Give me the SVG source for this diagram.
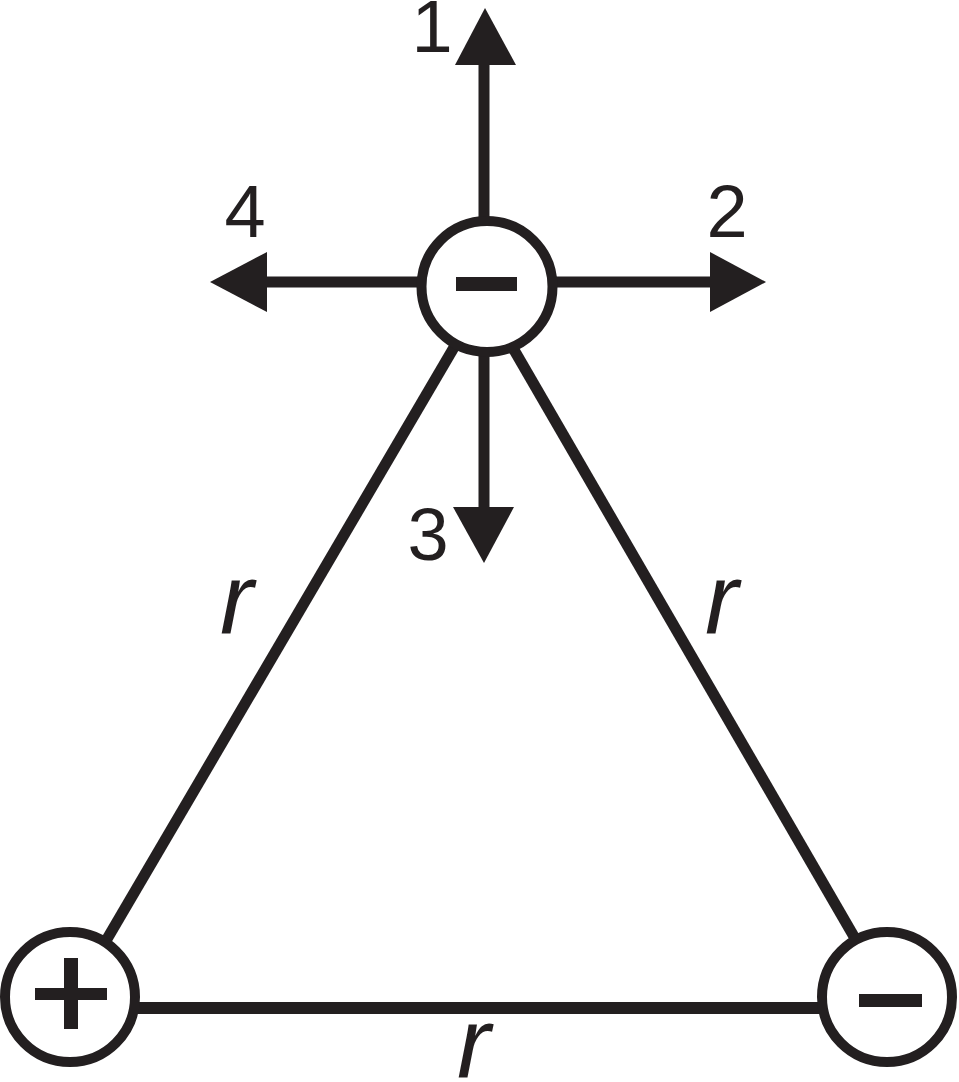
<svg xmlns="http://www.w3.org/2000/svg" width="959" height="1082" viewBox="0 0 959 1082">
<style>
.ln{stroke:#231f20;stroke-width:11;fill:none}
.head{fill:#231f20}
.ch{fill:#fff;stroke:#231f20;stroke-width:10}
.sg{fill:#231f20}
.num{font-family:"Liberation Sans",Arial,sans-serif;font-size:74px;fill:#231f20;text-anchor:middle}
.r{font-family:"Liberation Sans",Arial,sans-serif;font-size:100px;font-style:italic;fill:#231f20}
</style>
<rect width="959" height="1082" fill="#fff"/>
<g id="connectors">
<line class="ln" x1="490" y1="286" x2="73" y2="997"/>
<line class="ln" x1="477" y1="286" x2="889" y2="997"/>
<line class="ln" x1="70" y1="1008" x2="887" y2="1008" style="stroke-width:12"/>
<line class="ln" x1="484" y1="220" x2="484" y2="64"/>
<polygon class="head" points="455,65 516,65 485,8"/>
<line class="ln" x1="555" y1="282" x2="712" y2="282"/>
<polygon class="head" points="710,252 710,312 766,282"/>
<line class="ln" x1="420" y1="282" x2="265" y2="282"/>
<polygon class="head" points="267,252 267,312 210,282"/>
<line class="ln" x1="484" y1="352" x2="484" y2="509"/>
<polygon class="head" points="453,507 514,507 484,563"/>
</g>
<g id="charge-top">
<circle class="ch" cx="487" cy="286.5" r="65.5"/>
<rect class="sg" x="456" y="277" width="61" height="14"/>
</g>
<g id="charge-left">
<circle class="ch" cx="70" cy="997" r="65"/>
<rect class="sg" x="35" y="988" width="72" height="12"/>
<rect class="sg" x="64" y="958" width="14" height="71"/>
</g>
<g id="charge-right">
<circle class="ch" cx="887" cy="997" r="65"/>
<rect class="sg" x="859" y="994" width="63" height="13"/>
</g>
<g id="labels">
<text class="num" x="432" y="52">1</text>
<text class="num" x="727" y="237">2</text>
<text class="num" x="428" y="560">3</text>
<text class="num" x="245" y="237">4</text>
<text class="r" x="220" y="634">r</text>
<text class="r" x="705" y="634">r</text>
<text class="r" x="457" y="1078">r</text>
</g>
</svg>
